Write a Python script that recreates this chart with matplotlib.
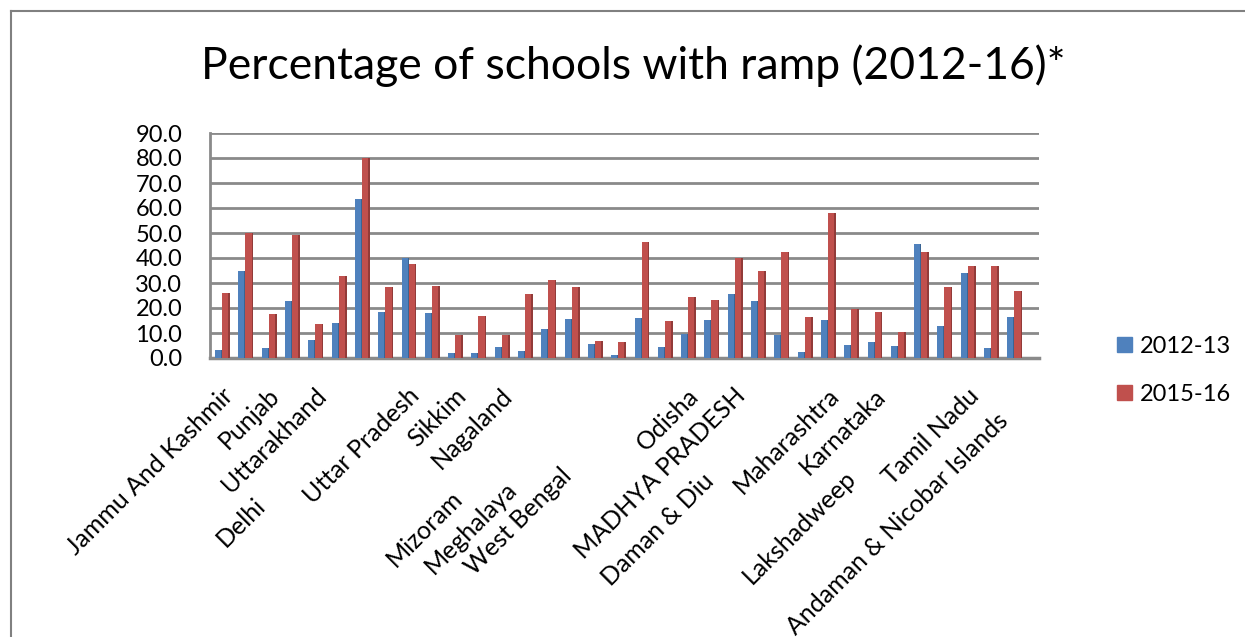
import matplotlib
matplotlib.use("Agg")
import matplotlib.pyplot as plt
from matplotlib.patches import Rectangle
from matplotlib.lines import Line2D

plt.rcParams["font.family"] = ["Lato", "DejaVu Sans"]

# data
states = ["Jammu And Kashmir", "Himachal Pradesh", "Punjab", "Chandigarh", "Uttarakhand",
          "Haryana", "Delhi", "Rajasthan", "Uttar Pradesh", "Bihar", "Sikkim",
          "Arunachal Pradesh", "Nagaland", "Manipur", "Mizoram", "Tripura", "Meghalaya",
          "Assam", "West Bengal", "Jharkhand", "Odisha", "Chhattisgarh", "MADHYA PRADESH",
          "Gujarat", "Daman & Diu", "Dadra & Nagar Haveli", "Maharashtra", "Andhra Pradesh",
          "Karnataka", "Goa", "Lakshadweep", "Kerala", "Tamil Nadu", "Puducherry",
          "Andaman & Nicobar Islands"]
pct_2012 = [3.2, 35.0, 4.2, 23.0, 7.3, 14.0, 63.5, 18.4, 40.0, 18.0, 2.2, 2.2, 4.5, 3.0,
            11.5, 15.5, 5.8, 1.1, 16.0, 4.5, 9.5, 15.3, 25.8, 23.0, 9.3, 2.5, 15.1, 5.3,
            6.4, 5.0, 45.8, 13.0, 34.0, 4.0, 16.4]
pct_2016 = [26.0, 50.0, 17.8, 49.4, 13.5, 32.7, 80.0, 28.5, 37.6, 28.8, 9.3, 16.8, 9.3, 25.5,
            31.4, 28.6, 6.8, 6.6, 46.3, 14.8, 24.6, 23.4, 40.2, 34.8, 42.4, 16.6, 58.2, 19.8,
            18.4, 10.6, 42.4, 28.6, 36.7, 36.7, 27.0]
series = ["2012-13", "2015-16"]

# excel skipped every second label, some were pushed down (trailing blanks in the sheet)
label_shift = {6: (-108, 110), 14: (-97, 102), 16: (-89, 93), 18: (-81, 80),
               24: (-78, 85), 30: (-76, 82), 34: (-17, 25)}

BLUE, BLUE_SIDE = "#4F81BD", "#3A6493"
RED, RED_SIDE = "#C0504D", "#923B39"
GRID = "#8A8A8A"

fig = plt.figure(figsize=(12.45, 6.37), dpi=100)
ax = fig.add_axes([210/1245, 1-358/637, (1039-210)/1245, (358-133)/637])

x = list(range(len(states)))
ax.bar([i - 0.30 for i in x], pct_2012, width=0.26, align="edge", color=BLUE, zorder=3)
ax.bar([i - 0.04 for i in x], pct_2012, width=0.05, align="edge", color=BLUE_SIDE, zorder=3)
ax.bar([i + 0.00 for i in x], pct_2016, width=0.27, align="edge", color=RED, zorder=4)
ax.bar([i + 0.27 for i in x], pct_2016, width=0.07, align="edge", color=RED_SIDE, zorder=4)

ax.set_xlim(-0.52, 35.06)
ax.set_ylim(0, 90)
ax.set_yticks(range(0, 91, 10))
ax.set_yticklabels([f"{v:.1f}" for v in range(0, 91, 10)], fontsize=17)
ax.tick_params(axis="y", length=0, pad=20)
ax.set_xticks([])
ax.yaxis.grid(True, color=GRID, lw=2, zorder=1)
ax.set_axisbelow(True)
for s in ["top", "right"]:
    ax.spines[s].set_visible(False)
ax.spines["left"].set_color(GRID)
ax.spines["left"].set_linewidth(2)
ax.spines["bottom"].set_color(GRID)
ax.spines["bottom"].set_linewidth(2.5)

for i, name in enumerate(states):
    if i % 2:
        continue
    dx, dy = label_shift.get(i, (0, 0))
    ax.annotate(name, xy=(i, 0), xycoords=ax.get_xaxis_transform(),
                xytext=(-1 + dx, -26 - dy), textcoords="offset pixels",
                rotation=45, rotation_mode="anchor", ha="right", va="top", fontsize=18)

fig.text(633/1245, 1-66/637, "Percentage of schools with ramp (2012-16)*",
         ha="center", va="center", fontsize=32)

handles = [Rectangle((0, 0), 1, 1, color=BLUE), Rectangle((0, 0), 1, 1, color=RED)]
fig.legend(handles, series, loc="upper left", bbox_to_anchor=(1117/1245, 1-336/637),
           frameon=False, fontsize=17, handlelength=0.62, handleheight=0.62,
           handletextpad=0.35, labelspacing=1.15, borderpad=0, borderaxespad=0)

# chart area frame (only left and top are inside the picture)
fig.add_artist(Line2D([11/1245, 11/1245], [0, 1-11/637], color="#808080", lw=1.5))
fig.add_artist(Line2D([11/1245, 1], [1-11/637, 1-11/637], color="#808080", lw=1.5))

fig.savefig("out.png", dpi=100)
